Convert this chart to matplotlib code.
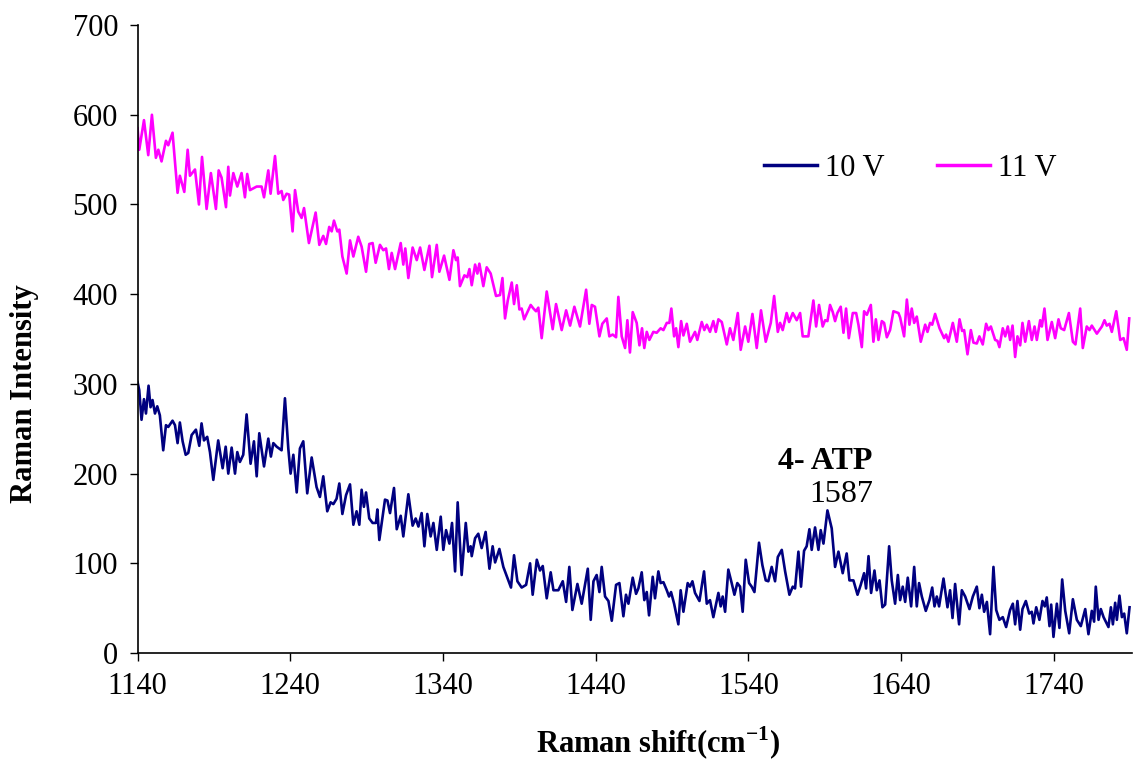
import matplotlib
matplotlib.use("Agg")
import matplotlib.pyplot as plt

plt.rcParams['font.family'] = ['Liberation Serif', 'DejaVu Serif']
plt.rcParams['mathtext.fontset'] = 'custom'
plt.rcParams['mathtext.rm'] = 'Liberation Serif'
plt.rcParams['mathtext.bf'] = 'Liberation Serif:bold'

# ---------------------------
# data
# ---------------------------
v11_x = [1140, 1141.1, 1144.2, 1147.0, 1149.4, 1152.0, 1153.6, 1155.7, 1158.6, 1160.1,
         1162.9, 1166.2, 1167.7, 1170.6, 1172.8, 1174.3, 1177.6, 1180.2, 1182.2, 1185.2,
         1188.0, 1191.3, 1193.1, 1195.0, 1197.9, 1199.4, 1200.5, 1202.7, 1205.3, 1208.1,
         1210.3, 1211.8, 1213.6, 1218.0, 1221.2, 1222.8, 1225.6, 1227.1, 1230.0, 1232.1,
         1234.3, 1235.4, 1237.6, 1239.3, 1241.5, 1243.1, 1245.2, 1247.4, 1249.0, 1252.2,
         1256.6, 1259.0, 1261.6, 1263.4, 1265.5, 1267.1, 1268.6, 1270.8, 1272.1, 1274.1,
         1276.9, 1279.1, 1281.3, 1284.5, 1286.7, 1289.6, 1291.7, 1293.9, 1295.9,
         1298.7, 1300.9, 1302.7, 1304.6, 1306.4, 1308.6, 1312.3, 1314.0, 1315.3, 1317.3,
         1320.1, 1322.8, 1325.0, 1327.8, 1331.1, 1332.8, 1335.9, 1337.6, 1340.7, 1344.2,
         1346.8, 1348.5, 1349.6, 1351.1, 1354.0, 1355.9, 1357.3, 1358.8, 1361.0, 1362.5,
         1363.8, 1366.4, 1368.6, 1371.2, 1374.7, 1377.3, 1378.9, 1380.6, 1382.4, 1385.0,
         1386.5, 1388.3, 1390.0, 1391.5, 1393.1, 1397.4, 1399.2, 1400.9, 1402.4, 1404.6,
         1407.9, 1411.8, 1414.0, 1417.7, 1420.6, 1423.2, 1426.0, 1429.7, 1433.7, 1435.8,
         1437.4, 1439.5, 1442.4, 1444.3, 1447.2, 1448.9, 1451.1, 1453.3, 1454.8,
         1457.0, 1459.2, 1460.7, 1462.4, 1464.2, 1466.8, 1468.6, 1470.3, 1471.8, 1473.4,
         1475.1, 1477.7, 1479.9, 1482.5, 1484.3, 1486.5, 1488.2, 1489.5, 1491.3, 1492.6,
         1494.1, 1495.9, 1497.4, 1499.6, 1501.7, 1505.0, 1506.5, 1509.4, 1511.1, 1512.7,
         1514.8, 1517.0, 1518.6, 1520.3, 1522.5, 1525.8, 1527.9, 1530.1, 1533.0, 1534.9,
         1537.8, 1539.9, 1542.6, 1545.4, 1548.2, 1551.3, 1554.6, 1556.8, 1559.2, 1560.7,
         1562.4, 1565.0, 1566.6, 1569.0, 1571.6, 1573.8, 1575.5, 1579.2, 1582.5, 1584.3,
         1586.2, 1588.6, 1590.2, 1591.7, 1593.4, 1595.2, 1596.7, 1598.2, 1600.4, 1602.2,
         1603.9, 1605.7,
         1608.3, 1610.5, 1612.0, 1614.2, 1615.7, 1617.5, 1620.1, 1621.8, 1623.4, 1625.1,
         1627.3, 1628.8, 1630.6, 1632.7, 1634.9, 1638.2, 1639.3, 1641.9, 1643.7, 1645.4,
         1646.9, 1648.5, 1650.2, 1652.8, 1655.7, 1657.2, 1658.9, 1660.3, 1662.2, 1665.1,
         1668.1, 1669.4, 1670.9, 1673.8, 1676.4, 1678.2, 1679.9, 1681.2, 1683.4, 1685.6,
         1687.3, 1689.5, 1691.2, 1693.4, 1695.6, 1697.1, 1698.7, 1701.5, 1703.0, 1704.3,
         1706.5, 1708.1, 1709.8, 1711.3, 1712.9, 1714.6, 1716.1, 1717.9, 1719.4, 1721.2,
         1723.6, 1725.5, 1727.3, 1728.8, 1731.0, 1732.1, 1733.8, 1735.8, 1738.6, 1740.8,
         1743.0, 1744.5, 1746.7, 1749.8, 1752.4, 1754.1, 1757.2, 1758.9, 1761.5, 1763.3,
         1764.8, 1768.1, 1771.4, 1773.1, 1774.6, 1776.4, 1777.9, 1780.8, 1783.4, 1785.6,
         1787.7, 1789.3]
v11_y = [585, 561, 594, 555, 600, 552, 561, 548, 571, 566,
         580, 513, 532, 514, 561, 532, 539, 500, 553, 495,
         535, 495, 538, 530, 497, 542, 510, 535, 520, 535,
         508, 534, 516, 520, 520, 508, 538, 512, 554, 512,
         515, 505, 512, 511, 470, 516, 492, 485, 496, 457,
         491, 455, 465, 456, 475, 470, 482, 470, 472, 442,
         423, 460, 442, 464, 453, 425, 456, 457, 435,
         455, 449, 451, 428, 446, 428, 457, 433, 451, 418,
         452, 438, 452, 427, 454, 419, 455, 425, 443, 416,
         449, 438, 441, 409, 421, 419, 428, 410, 433, 423,
         434, 409, 430, 423, 398, 399, 418, 373, 393, 413,
         389, 410, 383, 384, 372, 388, 384, 381, 385, 351,
         403, 361, 389, 360, 382, 365, 386, 364, 405, 367,
         388, 386, 353, 367, 373, 353, 355, 352, 397,
         353, 340, 371, 335, 380, 368, 343, 362, 340, 358,
         349, 358, 357, 362, 360, 368, 368, 384, 353, 362,
         341, 370, 354, 367, 347, 358, 349, 369, 360, 366,
         358, 370, 358, 372, 369, 344, 362, 349, 379, 338,
         364, 347, 378, 340, 382, 347, 368, 398, 358, 368,
         360, 379, 369, 379, 371, 379, 353, 353, 393, 364,
         388, 364, 371, 370, 388, 380, 370, 379, 386, 357,
         384, 351,
         379, 379, 366, 341, 381, 377, 388, 347, 372, 349,
         370, 368, 352, 360, 381, 379, 374, 353, 394, 366,
         384, 368, 375, 347, 366, 358, 368, 366, 378, 362,
         351, 355, 347, 368, 347, 372, 359, 360, 333, 360,
         346, 345, 353, 344, 367, 360, 364, 349, 348, 341,
         362, 353, 364, 349, 365, 330, 353, 343, 368, 347,
         370, 349, 364, 349, 371, 364, 384, 349, 369, 351,
         372, 362, 360, 379, 347, 344, 384, 340, 364, 360,
         365, 356, 364, 371, 365, 367, 358, 381, 349, 351,
         338, 373]

v10_x = [1140, 1141.1, 1142.6, 1144.2, 1145.5, 1147.2, 1148.5, 1149.8, 1151.4, 1152.9,
         1154.6, 1156.8, 1158.6, 1160.1, 1162.9, 1164.5, 1166.2, 1167.7, 1169.5, 1171.5,
         1173.2, 1175.4, 1178.2, 1180.4, 1181.9, 1183.5, 1185.6, 1187.4, 1189.6, 1192.8,
         1195.7, 1197.7, 1199.4, 1201.6, 1203.8, 1205.3, 1207.0, 1209.2, 1211.4, 1214.0,
         1216.2, 1218.0, 1219.7, 1222.8, 1225.6, 1227.3, 1228.9, 1231.1, 1234.3, 1236.5,
         1238.7, 1240.2, 1242.0, 1244.2, 1246.3, 1248.5, 1251.1, 1254.0, 1257.2, 1259.4,
         1261.6, 1264.2, 1266.4, 1268.2, 1270.3, 1272.1, 1274.1, 1276.5, 1279.1, 1281.3,
         1283.4, 1285.2, 1286.7, 1288.2, 1289.6, 1291.7, 1293.9, 1296.1, 1297.0, 1298.3,
         1302.0, 1303.6, 1305.3, 1307.9, 1309.7, 1312.3, 1314.0, 1317.3, 1320.1, 1322.1,
         1323.9, 1326.0, 1327.8, 1329.7, 1331.9, 1333.7, 1335.9, 1338.5, 1340.2, 1342.0,
         1344.2, 1345.9, 1347.9, 1349.6, 1352.2, 1354.9, 1356.6, 1358.1, 1358.8, 1361.0,
         1363.1, 1365.3, 1367.9, 1370.4, 1372.5, 1374.1, 1376.9, 1379.5, 1381.7, 1384.5,
         1386.5, 1388.7, 1391.5, 1394.4, 1397.0, 1398.7, 1401.4, 1403.5, 1405.3, 1407.9,
         1410.5, 1412.3, 1415.5, 1418.4, 1420.6, 1422.7, 1424.7, 1428.0, 1430.8, 1434.8,
         1436.7, 1438.5, 1440.6, 1442.4, 1443.9, 1446.1, 1448.3, 1450.5, 1453.3, 1455.5,
         1458.1, 1459.8, 1461.4, 1464.2, 1466.4, 1467.9, 1470.1, 1471.8, 1473.4,
         1474.9, 1477.3, 1478.8, 1481.0, 1482.5, 1484.3, 1486.5, 1488.0, 1489.3, 1491.3,
         1494.1, 1495.6, 1497.4, 1500.2, 1501.7, 1503.3, 1505.0, 1507.9, 1510.9, 1512.7,
         1514.8, 1517.0, 1520.3, 1521.8, 1523.1, 1524.7, 1526.8, 1529.0, 1530.8, 1532.7,
         1534.5, 1536.2, 1538.2, 1540.4, 1542.1, 1543.9, 1546.9, 1549.1, 1551.3, 1553.0,
         1555.2, 1557.4, 1559.2, 1561.8, 1564.0, 1566.8, 1569.0, 1570.5, 1572.7, 1574.4,
         1576.4, 1578.1, 1579.9, 1581.4, 1583.6, 1585.8, 1587.3, 1589.1, 1591.7, 1594.5,
         1596.7, 1598.9, 1601.7, 1604.3, 1606.1,
         1608.7, 1611.4, 1613.5, 1615.7, 1617.0, 1618.6, 1620.3, 1622.5, 1624.0, 1625.8,
         1627.7, 1629.5, 1632.1, 1633.8, 1636.0, 1637.8, 1639.3, 1641.0, 1642.6, 1644.3,
         1646.5, 1648.5, 1650.2, 1651.7, 1653.5, 1656.1, 1658.5, 1660.3, 1661.8, 1663.3,
         1664.8, 1667.7, 1670.3, 1672.0, 1673.6, 1675.3, 1677.9, 1679.7, 1681.9, 1684.7,
         1686.9, 1689.5, 1691.2, 1692.8, 1694.3, 1696.1, 1698.2, 1700.4, 1702.2, 1704.3,
         1706.5, 1708.7, 1711.3, 1713.1, 1714.6, 1716.1, 1717.9, 1719.4, 1721.6, 1723.8,
         1725.5, 1726.6, 1728.4, 1730.5, 1732.5, 1734.0, 1735.3, 1737.1, 1738.2, 1739.7,
         1741.9, 1743.6, 1745.4, 1747.4, 1750.0, 1752.4, 1755.0, 1757.6, 1760.5, 1762.6,
         1764.8, 1766.3, 1767.4, 1769.2, 1770.7, 1772.5, 1775.7, 1777.3, 1778.6, 1780.1,
         1781.2, 1782.9, 1784.5, 1786.0, 1787.7, 1789.5]
v10_y = [302, 293, 260, 283, 267, 298, 274, 282, 267, 275,
         265, 226, 254, 252, 259, 254, 234, 257, 236, 221,
         223, 243, 249, 231, 256, 237, 241, 224, 193, 237,
         206, 230, 200, 229, 200, 224, 213, 221, 266, 211,
         236, 197, 245, 208, 239, 219, 234, 230, 226, 284,
         228, 200, 221, 179, 228, 236, 178, 218, 185, 174,
         197, 158, 168, 166, 172, 189, 155, 176, 188, 143,
         158, 143, 182, 163, 179, 150, 145, 145, 160, 126,
         171, 170, 156, 184, 138, 153, 130, 177, 142, 150,
         141, 156, 119, 155, 130, 145, 115, 152, 115, 137,
         122, 145, 91, 168, 87, 145, 113, 119, 108, 128,
         133, 117, 135, 94, 119, 101, 116, 96, 86, 73,
         109, 80, 73, 76, 100, 65, 104, 92, 97, 61,
         90, 70, 70, 80, 57, 96, 48, 77, 55, 94,
         37, 80, 87, 68, 96, 63, 58, 36, 76, 78,
         41, 65, 55, 84, 66, 72, 90, 59, 68,
         42, 85, 61, 91, 78, 79, 70, 63, 68, 55,
         32, 70, 46, 78, 74, 80, 67, 58, 91, 55,
         59, 40, 67, 52, 63, 46, 93, 78, 65, 78,
         74, 46, 104, 78, 74, 68, 123, 98, 81, 80,
         96, 80, 107, 115, 91, 65, 74, 72, 113, 74,
         114, 119, 138, 115, 140, 115, 137, 122, 159, 139,
         96, 113, 89, 111, 81,
         81, 65, 76, 89, 72, 108, 67, 92, 70, 81,
         51, 54, 119, 81, 55, 87, 59, 74, 57, 84,
         52, 96, 52, 78, 63, 47, 59, 73, 52, 63,
         52, 83, 51, 70, 39, 77, 32, 70, 63, 49,
         63, 74, 50, 65, 46, 57, 21, 96, 48, 37,
         40, 29, 48, 55, 32, 58, 26, 49, 58, 44,
         46, 33, 51, 37, 58, 52, 62, 30, 54, 18,
         55, 28, 82, 47, 22, 60, 37, 30, 49, 21,
         47, 35, 74, 37, 49, 40, 29, 51, 32, 56,
         37, 64, 40, 44, 22, 51]

series_names = ["10 V", "11 V"]
x_ticks = [1140, 1240, 1340, 1440, 1540, 1640, 1740]
y_ticks = [0, 100, 200, 300, 400, 500, 600, 700]

# ---------------------------
# plot
# ---------------------------
fig = plt.figure(figsize=(11.35, 7.71), dpi=100)
ax = fig.add_axes([0.1212, 0.153, 0.876, 0.8145])

ax.plot(v10_x, v10_y, color="#000080", lw=1.9, label=series_names[0], solid_joinstyle="round")
ax.plot(v11_x, v11_y, color="#FF00FF", lw=1.9, label=series_names[1], solid_joinstyle="round")

ax.set_xlim(1140, 1791)
ax.set_ylim(0, 700)
ax.set_xticks(x_ticks)
ax.set_yticks(y_ticks)
ax.tick_params(direction="out", length=6, width=1, labelsize=22, pad=8)
for s in ["top", "right"]:
    ax.spines[s].set_visible(False)
for s in ["left", "bottom"]:
    ax.spines[s].set_linewidth(1.2)

ax.text(1590, 213, "4- ATP", fontsize=23, fontweight="bold", ha="center", va="center")
ax.text(1601, 177, "1587", fontsize=23, ha="center", va="center")

leg = ax.legend(loc="center", bbox_to_anchor=(0.777, 0.772), ncol=2, frameon=False,
                fontsize=22, handlelength=1.75, columnspacing=1.7, handletextpad=0.25)
for h in leg.get_lines():
    h.set_linewidth(2.5)

fig.text(0.022, 0.49, "Raman Intensity", rotation=90, fontsize=22, fontweight="bold",
         ha="center", va="center")
fig.text(0.58, 0.012, r"Raman shift(cm$^{\mathbf{-1}}$)", fontsize=22, fontweight="bold",
         ha="center", va="bottom")

fig.savefig("out.png", dpi=100)
